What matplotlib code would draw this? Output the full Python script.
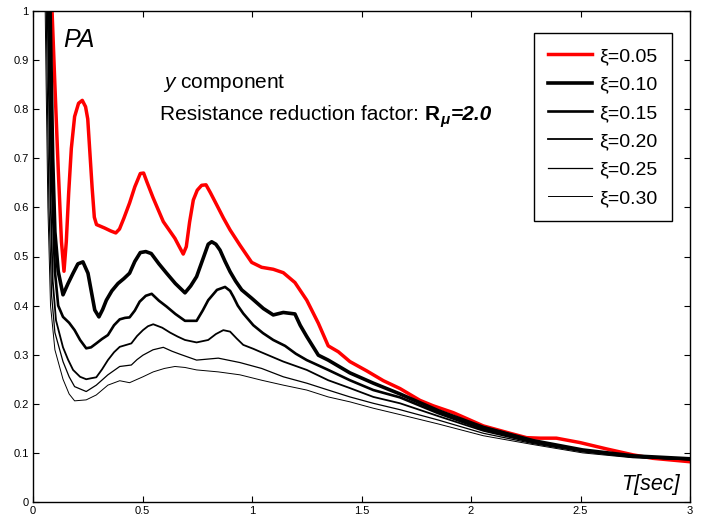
import matplotlib
matplotlib.use("Agg")
import matplotlib.pyplot as plt

plt.rcParams['font.family'] = ['Liberation Sans', 'DejaVu Sans']
plt.rcParams['mathtext.fontset'] = 'custom'
plt.rcParams['mathtext.rm'] = 'Liberation Sans'
plt.rcParams['mathtext.it'] = 'Liberation Sans:italic'
plt.rcParams['mathtext.bf'] = 'Liberation Sans:bold'

# ---- data ----
T_005 = [0.075, 0.087, 0.099, 0.115, 0.13, 0.1415, 0.152, 0.163, 0.175, 0.19, 0.208, 0.225, 0.24, 0.25,
         0.26, 0.27, 0.28, 0.29, 0.327, 0.355, 0.378, 0.395, 0.415, 0.441, 0.465, 0.49, 0.505, 0.52,
         0.548, 0.57, 0.595, 0.62, 0.648, 0.668, 0.686, 0.70, 0.715, 0.732, 0.75, 0.77, 0.79, 0.81,
         0.839, 0.87, 0.90, 0.945, 0.9985, 1.044, 1.097, 1.143, 1.196, 1.25, 1.303, 1.348, 1.394,
         1.447, 1.524, 1.60, 1.676, 1.767, 1.827, 1.919, 2.056, 2.178, 2.254, 2.315, 2.39, 2.498,
         2.62, 2.74, 2.83, 3.0]
SA_005 = [1.25, 1.0, 0.86, 0.68, 0.53, 0.47, 0.53, 0.63, 0.72, 0.785, 0.812, 0.818, 0.805, 0.78,
          0.71, 0.64, 0.58, 0.565, 0.558, 0.552, 0.548, 0.556, 0.578, 0.609, 0.642, 0.669, 0.670, 0.652,
          0.620, 0.597, 0.571, 0.555, 0.537, 0.52, 0.505, 0.52, 0.57, 0.615, 0.635, 0.645, 0.646, 0.63,
          0.605, 0.578, 0.554, 0.523, 0.488, 0.478, 0.474, 0.467, 0.447, 0.411, 0.364, 0.318, 0.306,
          0.286, 0.267, 0.247, 0.231, 0.207, 0.196, 0.182, 0.155, 0.140, 0.131, 0.130, 0.130, 0.121,
          0.108, 0.096, 0.089, 0.082]

T_010 = [0.07, 0.082, 0.09, 0.10, 0.115, 0.137, 0.16, 0.183, 0.205, 0.228, 0.251, 0.27, 0.282, 0.301,
         0.318, 0.335, 0.36, 0.388, 0.415, 0.441, 0.465, 0.49, 0.515, 0.54, 0.575, 0.61, 0.65, 0.694,
         0.72, 0.747, 0.78, 0.80, 0.816, 0.835, 0.854, 0.877, 0.90, 0.925, 0.953, 0.9985, 1.052, 1.097,
         1.143, 1.196, 1.22, 1.25, 1.303, 1.348, 1.447, 1.554, 1.676, 1.85, 2.056, 2.283, 2.51, 2.74, 3.0]
SA_010 = [1.2, 0.90, 0.70, 0.55, 0.47, 0.422, 0.445, 0.466, 0.485, 0.489, 0.466, 0.42, 0.391, 0.377,
          0.392, 0.411, 0.43, 0.445, 0.455, 0.466, 0.49, 0.508, 0.51, 0.506, 0.485, 0.466, 0.445, 0.426,
          0.44, 0.459, 0.50, 0.525, 0.530, 0.525, 0.513, 0.49, 0.469, 0.45, 0.432, 0.415, 0.394, 0.381,
          0.386, 0.383, 0.36, 0.337, 0.299, 0.289, 0.263, 0.242, 0.220, 0.186, 0.152, 0.125, 0.106, 0.094, 0.088]

T_015 = [0.065, 0.078, 0.087, 0.10, 0.115, 0.137, 0.165, 0.19, 0.215, 0.243, 0.265, 0.289, 0.315, 0.342,
         0.37, 0.396, 0.42, 0.441, 0.465, 0.487, 0.515, 0.542, 0.575, 0.61, 0.65, 0.694, 0.747, 0.775,
         0.80, 0.84, 0.877, 0.90, 0.915, 0.935, 0.96, 1.006, 1.05, 1.097, 1.151, 1.20, 1.25, 1.348,
         1.447, 1.554, 1.676, 1.85, 2.056, 2.283, 2.51, 2.74, 3.0]
SA_015 = [1.2, 0.90, 0.65, 0.47, 0.40, 0.377, 0.365, 0.35, 0.33, 0.313, 0.315, 0.323, 0.332, 0.34,
          0.36, 0.372, 0.375, 0.376, 0.39, 0.408, 0.42, 0.424, 0.41, 0.398, 0.383, 0.369, 0.369, 0.39,
          0.411, 0.432, 0.438, 0.43, 0.418, 0.40, 0.384, 0.36, 0.344, 0.33, 0.318, 0.302, 0.289, 0.269,
          0.248, 0.228, 0.213, 0.181, 0.148, 0.123, 0.105, 0.093, 0.087]

T_020 = [0.06, 0.072, 0.08, 0.09, 0.105, 0.137, 0.16, 0.183, 0.215, 0.243, 0.265, 0.289, 0.315, 0.342,
         0.37, 0.396, 0.449, 0.475, 0.502, 0.525, 0.549, 0.59, 0.626, 0.66, 0.694, 0.747, 0.80, 0.835,
         0.869, 0.90, 0.93, 0.96, 1.006, 1.037, 1.143, 1.25, 1.348, 1.447, 1.554, 1.676, 1.85, 2.056,
         2.283, 2.51, 2.74, 3.0]
SA_020 = [1.2, 0.85, 0.62, 0.45, 0.37, 0.315, 0.29, 0.269, 0.255, 0.25, 0.252, 0.254, 0.27, 0.289,
          0.305, 0.316, 0.323, 0.338, 0.35, 0.358, 0.362, 0.355, 0.345, 0.337, 0.33, 0.325, 0.33, 0.342,
          0.35, 0.347, 0.333, 0.32, 0.312, 0.306, 0.286, 0.269, 0.248, 0.232, 0.214, 0.201, 0.175, 0.145,
          0.121, 0.104, 0.092, 0.087]

T_025 = [0.055, 0.065, 0.073, 0.085, 0.10, 0.137, 0.165, 0.19, 0.243, 0.289, 0.342, 0.396, 0.449, 0.475,
         0.502, 0.548, 0.595, 0.635, 0.671, 0.747, 0.846, 0.945, 1.044, 1.143, 1.25, 1.348, 1.447, 1.554,
         1.676, 1.85, 2.056, 2.283, 2.51, 2.74, 3.0]
SA_025 = [1.2, 0.85, 0.60, 0.42, 0.345, 0.286, 0.255, 0.235, 0.225, 0.238, 0.259, 0.276, 0.279, 0.29,
          0.299, 0.31, 0.315, 0.307, 0.301, 0.289, 0.293, 0.284, 0.272, 0.255, 0.242, 0.228, 0.214, 0.201,
          0.188, 0.167, 0.140, 0.119, 0.102, 0.091, 0.086]

T_030 = [0.05, 0.06, 0.068, 0.08, 0.10, 0.137, 0.165, 0.19, 0.243, 0.289, 0.342, 0.396, 0.441, 0.502,
         0.549, 0.60, 0.648, 0.694, 0.747, 0.846, 0.945, 1.044, 1.143, 1.25, 1.348, 1.447, 1.554, 1.676,
         1.85, 2.056, 2.283, 2.51, 2.74, 3.0]
SA_030 = [1.2, 0.85, 0.60, 0.40, 0.31, 0.25, 0.22, 0.206, 0.208, 0.218, 0.238, 0.247, 0.243, 0.255,
          0.265, 0.272, 0.276, 0.274, 0.269, 0.265, 0.259, 0.248, 0.238, 0.228, 0.214, 0.204, 0.191, 0.178,
          0.159, 0.135, 0.117, 0.100, 0.090, 0.086]

labels = ['ξ=0.05', 'ξ=0.10', 'ξ=0.15', 'ξ=0.20', 'ξ=0.25', 'ξ=0.30']
x_ticks = [0, 0.5, 1, 1.5, 2, 2.5, 3]
x_ticklabels = ['0', '0.5', '1', '1.5', '2', '2.5', '3']
y_ticks = [0, 0.1, 0.2, 0.3, 0.4, 0.5, 0.6, 0.7, 0.8, 0.9, 1]
y_ticklabels = ['0', '0.1', '0.2', '0.3', '0.4', '0.5', '0.6', '0.7', '0.8', '0.9', '1']

series = [(T_005, SA_005), (T_010, SA_010), (T_015, SA_015),
          (T_020, SA_020), (T_025, SA_025), (T_030, SA_030)]
colors = ['#ff0000', 'black', 'black', 'black', 'black', 'black']
widths = [2.5, 2.6, 1.9, 1.3, 0.9, 0.7]

fig = plt.figure(figsize=(7.11, 5.21), dpi=100)
ax = fig.add_axes([33/711, 1-502/521, (690-33)/711, (502-11)/521])

for (t, sa), c, w, lab in zip(series, colors, widths, labels):
    ax.plot(t, sa, color=c, lw=w, label=lab, solid_joinstyle='round')

ax.set_xlim(0, 3)
ax.set_ylim(0, 1)
ax.set_xticks(x_ticks)
ax.set_xticklabels(x_ticklabels)
ax.set_yticks(y_ticks)
ax.set_yticklabels(y_ticklabels)
ax.tick_params(direction='in', top=True, right=True, length=4, width=0.8, labelsize=8, pad=3)
for s in ax.spines.values():
    s.set_linewidth(1.0)

leg = ax.legend(loc='upper right', bbox_to_anchor=(0.9726, 0.955), borderaxespad=0,
                fontsize=14, fancybox=False, edgecolor='black', framealpha=1,
                handlelength=2.26, handletextpad=0.36, labelspacing=0.55, borderpad=0.75)
leg.get_frame().set_linewidth(1.0)

ax.text(0.046, 0.927, 'PA', transform=ax.transAxes, fontsize=18, style='italic')
ax.text(0.198, 0.843, r'$\mathit{y}$ component', transform=ax.transAxes, fontsize=15)
t1 = ax.text(0.194, 0.778, 'Resistance reduction factor: ', transform=ax.transAxes, fontsize=15)
t2 = ax.annotate('R', xy=(1, 0), xycoords=t1, va='bottom', ha='left', fontsize=15, fontweight='bold')
t3 = ax.annotate('μ', xy=(1, 0), xycoords=t2, xytext=(0, -2.5), textcoords='offset points',
                 va='bottom', ha='left', fontsize=11, fontweight='bold', style='italic')
t4 = ax.annotate('=2.0', xy=(1, 0), xycoords=t2, xytext=(7.5, 0), textcoords='offset points',
                 va='bottom', ha='left', fontsize=15, fontweight='bold', style='italic')
ax.text(0.985, 0.024, 'T[sec]', transform=ax.transAxes, fontsize=15.5, style='italic', ha='right')

fig.savefig('out.png', dpi=100)
